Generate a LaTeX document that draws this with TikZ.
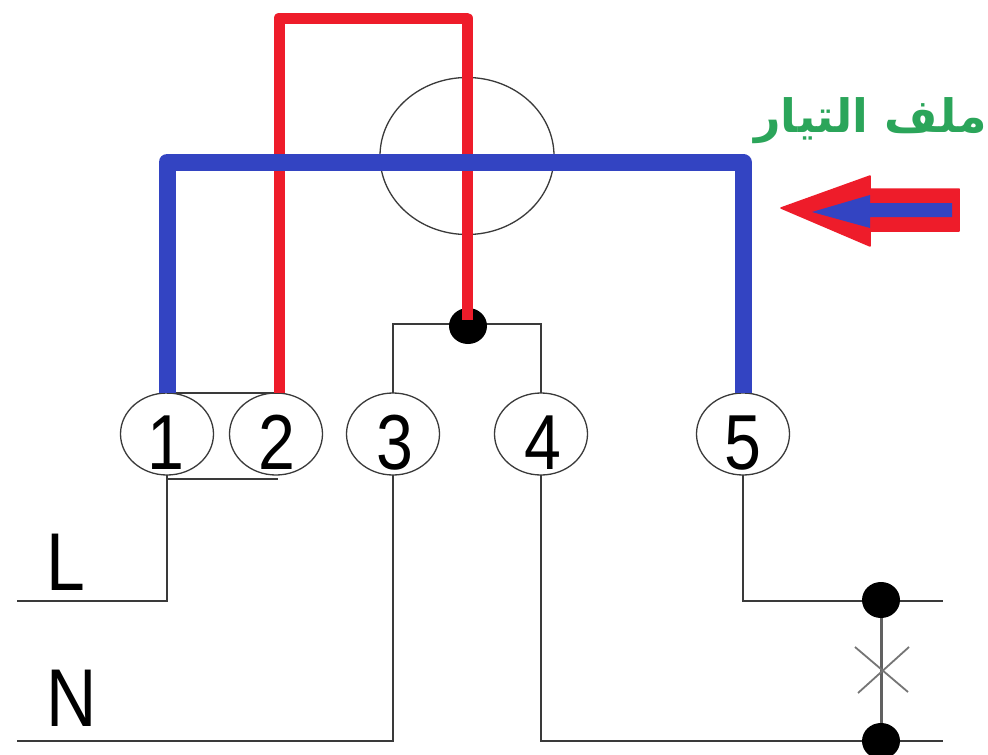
\documentclass[tikz,border=0pt]{standalone}
\usepackage{graphicx}
\usepackage{fontspec}
\setmainfont{Liberation Sans}
\newfontfamily\arabicfont[Script=Arabic]{DejaVu Sans}
\TeXXeTstate=1
\usetikzlibrary{shapes.geometric}
\definecolor{wireblue}{HTML}{3344C2}
\definecolor{wirered}{HTML}{EE1C2A}
\definecolor{labelgreen}{HTML}{2BA55A}
\definecolor{thinline}{HTML}{3A3A3A}
\tikzset{
  x=1pt,y=-1pt,
  terminal/.style={draw=thinline,line width=1.3pt,ellipse,minimum width=93pt,minimum height=82pt,inner sep=0pt,outer sep=0pt},
  digitlabel/.style={anchor=base,inner sep=0pt,font=\fontsize{78}{78}\selectfont},
  wire/.style={draw=thinline,line width=1.9pt},
  junction/.style={ellipse,fill=black,minimum width=38pt,minimum height=36pt,inner sep=0pt,outer sep=0pt},
  bluewire/.style={draw=wireblue,line width=17pt,line join=round},
  redwire/.style={draw=wirered,line width=11pt,line join=round},
  biglabel/.style={font=\fontsize{82}{82}\selectfont,inner sep=0pt,text=black,anchor=base west}
}
\begin{document}
\begin{tikzpicture}
\useasboundingbox (0,0) rectangle (988,755);
\fill[white] (0,0) rectangle (988,755);
% meter circle
\node[draw=thinline,line width=1.3pt,ellipse,minimum width=174pt,minimum height=157pt,inner sep=0pt] (meter) at (467,156) {};
% terminals
\node[terminal] (t1) at (167,434) {};
\node[terminal] (t2) at (276,434) {};
\node[terminal] (t3) at (393,434) {};
\node[terminal] (t4) at (541,434) {};
\node[terminal] (t5) at (743,434) {};
\node[digitlabel] (d1) at (166,469) {\scalebox{0.85}[1]{1}};
\node[digitlabel] (d2) at (277,469) {\scalebox{0.85}[1]{2}};
\node[digitlabel] (d3) at (395,469) {\scalebox{0.85}[1]{3}};
\node[digitlabel] (d4) at (543,469) {\scalebox{0.85}[1]{4}};
\node[digitlabel] (d5) at (743,469) {\scalebox{0.85}[1]{5}};
% coordinates
\coordinate (jtop) at (468,326);
\coordinate (c3top) at (393,324);
\coordinate (c4top) at (541,324);
\coordinate (lend) at (17,601);
\coordinate (lcorner) at (167,601);
\coordinate (nend) at (17,741);
\coordinate (ncorner) at (393,741);
\coordinate (c4bot) at (541,741);
\coordinate (c5bot) at (743,601);
\coordinate (e5) at (943,601);
\coordinate (e4) at (943,741);
\coordinate (rbot) at (279,393);
\coordinate (rtopl) at (279,18);
\coordinate (rtopr) at (467,18);
\coordinate (rend) at (467,320);
\coordinate (bl) at (167,393);
\coordinate (btopl) at (167,162);
\coordinate (btopr) at (743,162);
\coordinate (br) at (743,393);
\coordinate (xa) at (855,647);
\coordinate (xb) at (908,692);
\coordinate (xc) at (858,693);
\coordinate (xd) at (909,647);
\coordinate (l1a) at (167,393);
\coordinate (l1b) at (278,393);
\coordinate (l2a) at (167,479);
\coordinate (l2b) at (278,479);
% thin wires
\draw[wire] (t3.north) -- (c3top) -- (c4top) -- (t4.north);
\draw[wire] (l1a) -- (l1b);
\draw[wire] (l2a) -- (l2b);
\draw[wire] (t1.south) -- (lcorner) -- (lend);
\draw[wire] (t3.south) -- (ncorner) -- (nend);
\draw[wire] (t4.south) -- (c4bot) -- (e4);
\draw[wire] (t5.south) -- (c5bot) -- (e5);
\node[junction] (ja) at (881,600) {};
\node[junction] (jb) at (881,741) {};
\draw[draw=thinline!80,line width=3pt] (ja) -- (jb);
\draw[draw=thinline!70,line width=1.8pt] (xa) -- (xb);
\draw[draw=thinline!70,line width=1.8pt] (xc) -- (xd);
% heavy wires
\node[junction] (j0) at (jtop) {};
\draw[redwire] (rbot) -- (rtopl) -- (rtopr) -- (rend);
\draw[bluewire] (bl) -- (btopl) -- (btopr) -- (br);
% labels
\node[biglabel] (lL) at (46,590) {\scalebox{0.85}[1]{L}};
\node[biglabel] (lN) at (46,726) {\scalebox{0.85}[1]{N}};
\node[anchor=base east,inner sep=0pt,text=labelgreen,font=\arabicfont\bfseries\fontsize{46}{46}\selectfont] (title) at (987,132) {\beginR ملف التيار\endR};
% arrow
\fill[wirered,draw=wirered,line width=1.5pt,line join=round] (781,208) -- (870,176) -- (870,189) -- (959,189) -- (959,231) -- (870,231) -- (870,246) -- cycle;
\fill[wireblue] (812,212) -- (870,195) -- (870,203) -- (952,203) -- (952,217) -- (870,217) -- (870,228) -- cycle;
\end{tikzpicture}
\end{document}
